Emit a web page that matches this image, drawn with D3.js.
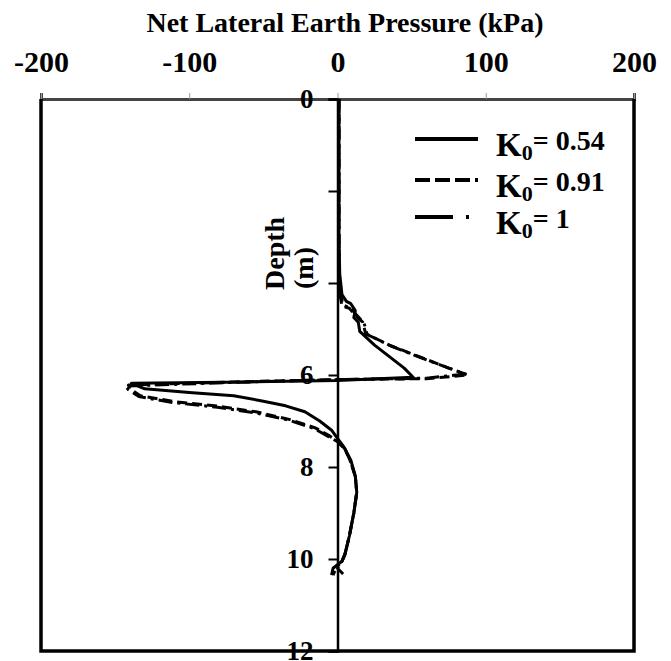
<!DOCTYPE html>
<html><head><meta charset="utf-8">
<script src="https://cdn.jsdelivr.net/npm/d3@7"></script>
<style>body{margin:0;background:#fff;} svg{display:block;} text{font-family:"Liberation Serif","Times New Roman",serif;font-weight:bold;fill:#000;}</style>
</head><body>
<svg id="c" width="671" height="661"></svg>
<script>
const xTicks = [-200, -100, 0, 100, 200];
const xTickLabels = ["-200", "-100", "0", "100", "200"];
const depthTicks = [0, 2, 4, 6, 8, 10, 12];
const depthLabels = ["0", "", "", "6", "8", "10", "12"];
const seriesNames = ["0.54", "0.91", "1"];
// [pressure kPa, depth m]
const k054 = [[1,0],[1,1],[1,2],[1,3],[1.5,3.8],[3,4.25],[6,4.4],[9,4.45],[12,4.6],[11,4.75],[14,4.85],[15,5.05],[25,5.35],[35,5.6],[45,5.85],[51,6.05],[0,6.12],[-60,6.15],[-139,6.18],[-130,6.3],[-100,6.38],[-70,6.45],[-50,6.57],[-35,6.67],[-22,6.8],[-12,7.0],[-4,7.2],[0,7.38],[4,7.55],[9,7.85],[12,8.2],[13,8.55],[11,9.0],[8,9.5],[5,9.9],[3,10.05],[-3,10.2],[-4,10.35]];
const k091 = [[1,0],[1,2],[1,3.8],[2,4.3],[3,4.5],[8,4.55],[12,4.7],[17,4.85],[19,5.1],[35,5.35],[55,5.6],[75,5.85],[88,6.0],[60,6.08],[0,6.1],[-70,6.15],[-141,6.22],[-140,6.3],[-133,6.45],[-110,6.58],[-80,6.68],[-55,6.8],[-32,6.97],[-15,7.15],[-5,7.33],[0,7.45],[5,7.6],[9,7.9],[12,8.2],[13,8.55],[11,9.0],[8,9.5],[5,9.9],[3,10.05],[0,10.2],[6,10.4]];
const k100 = [[1,0],[1,2],[1,3.8],[2,4.28],[4,4.48],[9,4.55],[13,4.7],[18,4.88],[20,5.12],[36,5.37],[56,5.62],[76,5.86],[86,5.98],[60,6.07],[0,6.1],[-70,6.16],[-143,6.24],[-141,6.32],[-134,6.47],[-111,6.6],[-81,6.7],[-56,6.82],[-33,6.98],[-16,7.16],[-6,7.34],[0,7.45],[5,7.6],[9,7.9],[12,8.2],[13,8.55],[11,9.0],[8,9.5],[5,9.9],[3,10.05],[-1,10.2],[-3,10.35]];

const svg = d3.select("#c");
const x = d3.scaleLinear().domain([-200, 200]).range([41, 634]);
const y = d3.scaleLinear().domain([0, 12]).range([99, 651]);

// title
svg.append("text").attr("x", 345).attr("y", 32).attr("text-anchor", "middle")
  .style("font-size", "28px").text("Net Lateral Earth Pressure (kPa)");

// top axis
const gx = svg.append("g").attr("transform", `translate(0,${y(0)})`)
  .call(d3.axisTop(x).tickValues(xTicks).tickSize(6).tickFormat((d, i) => xTickLabels[i]));
gx.select(".domain").attr("stroke", "#444").attr("stroke-width", 3);
gx.selectAll(".tick line").attr("stroke", "#999").attr("stroke-width", 1);
gx.selectAll(".tick text").attr("y", -27).style("font-size", "30px")
  .style("font-family", "Liberation Serif").style("font-weight", "bold");

// frame: left, right, bottom
svg.append("path").attr("d", `M${x(-200)},${y(0)}V${y(12)}H${x(200)}V${y(0)}`)
  .attr("fill", "none").attr("stroke", "#000").attr("stroke-width", 3.5);

// y axis at zero
const gy = svg.append("g").attr("transform", `translate(${x(0)},0)`)
  .call(d3.axisLeft(y).tickValues(depthTicks).tickSize(9).tickFormat((d, i) => depthLabels[i]));
gy.select(".domain").attr("stroke", "#000").attr("stroke-width", 2.5);
gy.selectAll(".tick line").attr("stroke", "#000").attr("stroke-width", 2);
gy.selectAll(".tick text").attr("x", -24).style("font-size", "27px")
  .style("font-family", "Liberation Serif").style("font-weight", "bold");

// depth title (two lines, rotated, bottom-aligned)
svg.append("text").attr("transform", `translate(284,290) rotate(-90)`)
  .attr("text-anchor", "start").style("font-size", "28px").text("Depth");
svg.append("text").attr("transform", `translate(313,289) rotate(-90)`)
  .attr("text-anchor", "start").style("font-size", "28px").text("(m)");

const line = d3.line().x(d => x(d[0])).y(d => y(d[1])).curve(d3.curveLinear);
const styles = [null, "10,5", "14,5,3,5"];
[k054, k091, k100].forEach((s, i) => {
  svg.append("path").datum(s).attr("d", line).attr("fill", "none").attr("stroke", "#000")
    .attr("stroke-width", 3).attr("stroke-linejoin", "round")
    .attr("stroke-dasharray", styles[i]);
});

// legend
const legY = [139, 180, 217];
const legDash = [null, "15,5", "38,13,3,13"];
seriesNames.forEach((n, i) => {
  svg.append("line").attr("x1", 415).attr("x2", 478).attr("y1", legY[i]).attr("y2", legY[i])
    .attr("stroke", "#000").attr("stroke-width", 4).attr("stroke-dasharray", legDash[i]);
  const t = svg.append("text").attr("x", 496).attr("y", legY[i] + 17).style("font-size", "33px");
  t.append("tspan").text("K");
  t.append("tspan").attr("dy", 4).style("font-size", "22px").text("0");
  t.append("tspan").attr("dy", -10).style("font-size", "28px").text("= " + n);
});
</script>
</body></html>
